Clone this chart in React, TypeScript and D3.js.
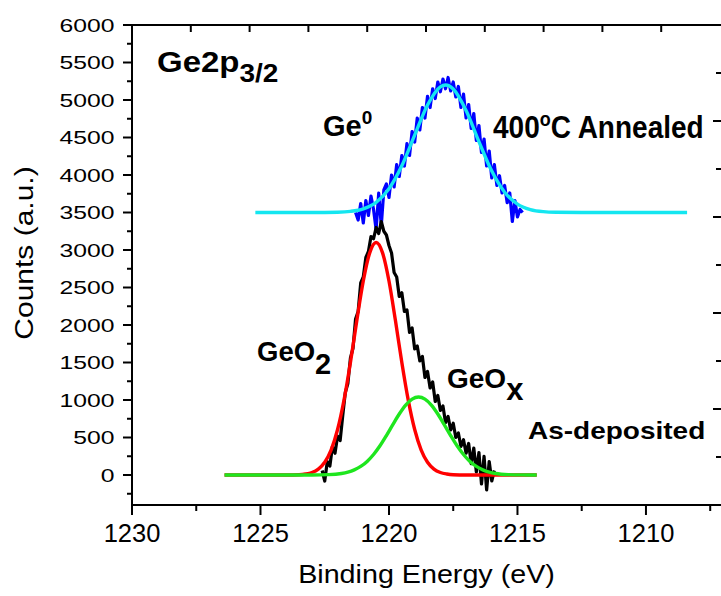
import React from 'react'
import * as d3 from 'd3'

const W = 721
const H = 596
const FONT = '"Liberation Sans", Arial, Helvetica, sans-serif'

// as-deposited Ge2p3/2 spectrum, 0.1 eV steps starting at 1222.6 eV
const asDepStart = 1222.6
const asDepCounts = [
    60, -80, 180, 120, 380, 290, 520, 460, 790, 1100,
    1220, 1560, 1690, 2080, 2180, 2560, 2640, 2900, 2980, 3180,
    3150, 3300, 3220, 3380, 3250, 3200, 3060, 2960, 2700, 2640,
    2380, 2430, 2180, 2200, 1900, 1960, 1680, 1720, 1520, 1580,
    1300, 1380, 1160, 1240, 980, 1060, 860, 920, 700, 780,
    600, 690, 500, 560, 380, 470, 290, 420, 150, 360,
    40, 300, -120, 250, -200, 180, -80, 60,
]

// 400C annealed spectrum (offset by 3500), 0.1 eV steps starting at 1221.3 eV
const annealStart = 1221.3
const annealCounts = [
    3500, 3400, 3620, 3360, 3660, 3460, 3720, 3540, 3270, 3760,
    3320, 3800, 3880, 3700, 4000, 3840, 4140, 3980, 4260, 4120,
    4420, 4260, 4580, 4440, 4760, 4600, 4900, 4760, 5050, 4900,
    5150, 5020, 5240, 5110, 5280, 5150, 5300, 5120, 5240, 5040,
    5180, 4900, 5080, 4760, 4940, 4620, 4820, 4460, 4660, 4300,
    4480, 4120, 4320, 3960, 4140, 3860, 3990, 3760, 3860, 3630,
    3760, 3380, 3660, 3440, 3540, 3500,
]

// fitted components [eV, counts]
const geO2Fit: [number, number][] = [
    [1226.4, 0], [1224.0, 0], [1223.5, 4], [1223.25, 13], [1223.0, 33],
    [1222.75, 79], [1222.5, 170], [1222.25, 336], [1222.0, 606], [1221.75, 998],
    [1221.5, 1500], [1221.25, 2062], [1221.0, 2586], [1220.75, 2962], [1220.5, 3100],
    [1220.25, 2962], [1220.0, 2586], [1219.75, 2062], [1219.5, 1500], [1219.25, 998],
    [1219.0, 606], [1218.75, 336], [1218.5, 170], [1218.25, 79], [1218.0, 33],
    [1217.75, 13], [1217.5, 4], [1217.0, 0], [1214.25, 0],
]
const geOxFit: [number, number][] = [
    [1226.4, 0], [1223.0, 1], [1222.35, 5], [1221.85, 20], [1221.6, 38],
    [1221.35, 68], [1221.1, 114], [1220.85, 181], [1220.6, 273], [1220.35, 389],
    [1220.1, 526], [1219.85, 672], [1219.6, 813], [1219.35, 932], [1219.1, 1012],
    [1218.85, 1040], [1218.6, 1012], [1218.35, 932], [1218.1, 813], [1217.85, 672],
    [1217.6, 526], [1217.35, 389], [1217.1, 273], [1216.85, 181], [1216.6, 114],
    [1216.35, 68], [1216.1, 38], [1215.85, 20], [1215.35, 5], [1214.85, 1], [1214.25, 0],
]
const ge0Fit: [number, number][] = [
    [1225.2, 3500], [1223.0, 3500], [1222.0, 3504], [1221.5, 3515], [1221.0, 3549],
    [1220.5, 3635], [1220.0, 3817], [1219.5, 4123], [1219.0, 4531], [1218.5, 4934],
    [1218.0, 5176], [1217.8, 5200], [1217.5, 5148], [1217.0, 4861], [1216.5, 4445],
    [1216.0, 4052], [1215.5, 3771], [1215.0, 3612], [1214.5, 3539], [1214.0, 3511],
    [1213.5, 3503], [1212.5, 3500], [1208.4, 3500],
]

const yMajor = [0, 500, 1000, 1500, 2000, 2500, 3000, 3500, 4000, 4500, 5000, 5500, 6000]
const yMinor = [-250, 250, 750, 1250, 1750, 2250, 2750, 3250, 3750, 4250, 4750, 5250, 5750]
const xMajor = [1230, 1225, 1220, 1215, 1210]
const xMinor = [1227.5, 1222.5, 1217.5, 1212.5, 1207.5]

function Txt({ x, y, size, sy = 1, bold = false, anchor = 'start', rotate = 0, children }: any) {
    const tf = `translate(${x},${y})${rotate ? ` rotate(${rotate})` : ''} scale(1,${sy})`
    return (
        <text transform={tf} fontSize={size} fontFamily={FONT} fontWeight={bold ? 'bold' : 'normal'}
            textAnchor={anchor} fill="#000">
            {children}
        </text>
    )
}

export default function App() {
    const x = d3.scaleLinear().domain([1230, 1207.08]).range([132, 721])
    const y = d3.scaleLinear().domain([-400, 6000]).range([505, 25])
    // opposite axes of the stacked layer
    const xTop = d3.scaleLinear().domain([1230, 1205]).range([132, 720])
    const yRight = d3.scaleLinear().domain([0, 10]).range([505, 25])

    const raw = d3.line<[number, number]>().x((d) => x(d[0])).y((d) => y(d[1]))
    const fit = d3.line<[number, number]>().x((d) => x(d[0])).y((d) => y(d[1])).curve(d3.curveMonotoneX)

    const asDep: [number, number][] = asDepCounts.map((c, i) => [asDepStart - i * 0.1, c])
    const anneal: [number, number][] = annealCounts.map((c, i) => [annealStart - i * 0.1, c])

    const topTicks = d3.range(1, 10).map((i) => 1230 - i * 2.5)
    const rightTicks = d3.range(1, 10)

    return (
        <svg width={W} height={H} style={{ position: 'absolute', left: 0, top: 0, background: '#fff' }}>
            {/* data + fits */}
            <path d={raw(anneal) || ''} fill="none" stroke="#0000ff" strokeWidth={3.2} strokeLinejoin="round" />
            <path d={fit(ge0Fit) || ''} fill="none" stroke="#14e6f0" strokeWidth={3.4} />
            <path d={raw(asDep) || ''} fill="none" stroke="#000" strokeWidth={3.2} strokeLinejoin="round" />
            <path d={fit(geO2Fit) || ''} fill="none" stroke="#ff0000" strokeWidth={3.4} />
            <path d={fit(geOxFit) || ''} fill="none" stroke="#1ee61e" strokeWidth={3.4} />

            {/* axes */}
            <g stroke="#000" strokeWidth={2}>
                <line x1={132} x2={132} y1={24} y2={506} />
                <line x1={131} x2={721} y1={505} y2={505} />
                <line x1={123} x2={721} y1={25} y2={25} />
                {yMajor.map((v) => <line key={'ym' + v} x1={123} x2={132} y1={y(v)} y2={y(v)} />)}
                {yMinor.map((v) => <line key={'yn' + v} x1={127} x2={132} y1={y(v)} y2={y(v)} />)}
                {xMajor.map((v) => <line key={'xm' + v} x1={x(v)} x2={x(v)} y1={505} y2={515} />)}
                {xMinor.map((v) => <line key={'xn' + v} x1={x(v)} x2={x(v)} y1={505} y2={511} />)}
                {topTicks.map((v) => <line key={'t' + v} x1={xTop(v)} x2={xTop(v)} y1={25} y2={32} />)}
                {rightTicks.map((v) => (
                    <line key={'r' + v} x1={v % 2 === 0 ? 713 : 716} x2={721} y1={yRight(v)} y2={yRight(v)} />
                ))}
            </g>

            {yMajor.map((v) => (
                <Txt key={'yl' + v} x={114.5} y={y(v) + 6.7} size={24.7} sy={0.75} anchor="end">{v}</Txt>
            ))}
            {xMajor.map((v) => (
                <Txt key={'xl' + v} x={x(v)} y={542} size={25.5} anchor="middle">{v}</Txt>
            ))}

            <Txt x={426.5} y={583} size={28.7} sy={0.89} anchor="middle">Binding Energy (eV)</Txt>
            <Txt x={33} y={253} size={30} sy={0.84} anchor="middle" rotate={-90}>Counts (a.u.)</Txt>

            {/* annotations */}
            <Txt x={157} y={72} size={33} sy={0.92} bold>
                Ge2p<tspan fontSize={28} dy={11}>3/2</tspan>
            </Txt>
            <Txt x={323} y={136} size={29} bold>
                Ge<tspan fontSize={19} dy={-12}>0</tspan>
            </Txt>
            <Txt x={493} y={138} size={28} sy={1.1} bold>
                400<tspan fontSize={18} dy={-11}>o</tspan><tspan dy={11}>C Annealed</tspan>
            </Txt>
            <Txt x={257} y={361} size={27.5} bold>
                GeO<tspan fontSize={29} dy={13}>2</tspan>
            </Txt>
            <Txt x={447} y={388} size={28} bold>
                GeO<tspan fontSize={31} dy={12}>x</tspan>
            </Txt>
            <Txt x={528} y={439} size={28} sy={0.88} bold>As-deposited</Txt>
        </svg>
    )
}
